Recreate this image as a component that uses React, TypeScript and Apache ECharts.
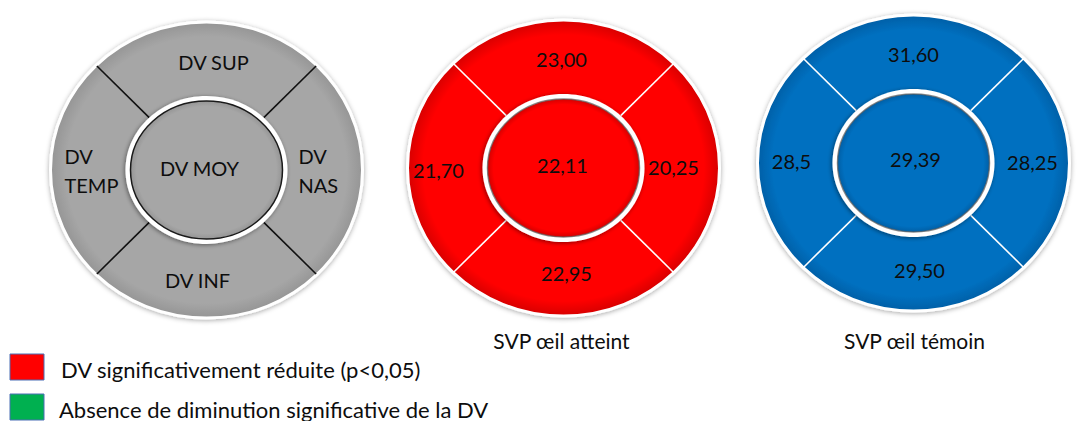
import React, { useEffect, useRef } from 'react';
import * as echarts from 'echarts';

// ---- data ----
const donutTitles = ['', 'SVP œil atteint', 'SVP œil témoin'];
// segment order: SUP, NAS, INF, TEMP, MOY
const referenceLabels = ['DV SUP', 'DV\nNAS', 'DV INF', 'DV\nTEMP', 'DV MOY'];
const atteintValues = ['23,00', '20,25', '22,95', '21,70', '22,11'];
const temoinValues = ['31,60', '28,25', '29,50', '28,5', '29,39'];
const legendLabels = [
  'DV significativement réduite (p<0,05)',
  'Absence de diminution significative de la DV',
];
const legendColors = ['#ff0000', '#00b050'];

const donutLabels = [referenceLabels, atteintValues, temoinValues];

// ---- styles / layout ----
const FONT = 'Lato';
const TEXT_COLOR = '#0d0d0d';
const DONUT_STYLE = [
  { fill: '#a6a6a6', edge: '#959595', line: '#111111', innerStroke: '#1a1a1a' },
  { fill: '#ff0000', edge: '#d60000', line: '#ffffff', innerStroke: 'rgba(90,90,90,0.7)' },
  { fill: '#0070c0', edge: '#005fa6', line: '#ffffff', innerStroke: 'rgba(90,90,90,0.7)' },
];
const CENTER_SHIFT = [[-2, 1], [2, -1], [-1, -6]];
const LABEL_OFFSETS = [
  [[7, -108], [92, 0], [-9, 110], [-142, 0], [-7, -2]],
  [[-2, -109], [110, -1], [3, 105], [-125, 2], [-1, -3]],
  [[0, -109], [119, -1], [6, 107], [-122, -2], [2, -4]],
];
const OUTER = { rx: 156, ry: 148 };
const WHITE_RING = { rx: 81, ry: 74 };
const INNER = { rx: 76, ry: 69 };

function gradient(fill: string, edge: string, from: number) {
  return {
    type: 'radial',
    x: 0.5,
    y: 0.5,
    r: 0.5,
    colorStops: [
      { offset: 0, color: fill },
      { offset: from, color: fill },
      { offset: 1, color: edge },
    ],
  };
}

function renderItem(params: any, api: any) {
  const i = api.value(0);
  const pt = api.coord([i, 0]);
  const cs = params.coordSys;
  const cx = pt[0] + CENTER_SHIFT[i][0];
  const cy = cs.y + cs.height / 2 + CENTER_SHIFT[i][1];
  const st = DONUT_STYLE[i];
  const children: any[] = [];

  children.push({
    type: 'ellipse',
    shape: { cx, cy, rx: OUTER.rx, ry: OUTER.ry },
    style: {
      fill: gradient(st.fill, st.edge, 0.9),
      stroke: '#ffffff',
      lineWidth: 3,
      shadowBlur: 5,
      shadowColor: 'rgba(0,0,0,0.35)',
      shadowOffsetY: 1,
    },
  });

  [45, 135, 225, 315].forEach((deg) => {
    const a = (deg * Math.PI) / 180;
    const c = Math.cos(a);
    const s = Math.sin(a);
    children.push({
      type: 'line',
      shape: {
        x1: cx + WHITE_RING.rx * c,
        y1: cy + WHITE_RING.ry * s,
        x2: cx + (OUTER.rx - 1) * c,
        y2: cy + (OUTER.ry - 1) * s,
      },
      style: { stroke: st.line, lineWidth: 1.6 },
    });
  });

  children.push({
    type: 'ellipse',
    shape: { cx, cy, rx: WHITE_RING.rx, ry: WHITE_RING.ry },
    style: {
      fill: '#ffffff',
      shadowBlur: 4,
      shadowColor: 'rgba(0,0,0,0.45)',
      shadowOffsetX: -1,
      shadowOffsetY: 1,
    },
  });

  children.push({
    type: 'ellipse',
    shape: { cx, cy, rx: INNER.rx, ry: INNER.ry },
    style: {
      fill: gradient(st.fill, st.edge, 0.92),
      stroke: st.innerStroke,
      lineWidth: 1.5,
    },
  });

  donutLabels[i].forEach((label, k) => {
    const [dx, dy] = LABEL_OFFSETS[i][k];
    const multi = label.indexOf('\n') >= 0;
    children.push({
      type: 'text',
      x: cx + dx,
      y: cy + dy,
      style: {
        text: label,
        fill: TEXT_COLOR,
        fontSize: 20,
        fontFamily: FONT,
        align: multi ? 'left' : 'center',
        verticalAlign: 'middle',
        lineHeight: 29,
      },
    });
  });

  return { type: 'group', children };
}

export default function App() {
  const ref = useRef<HTMLDivElement>(null);

  useEffect(() => {
    if (!ref.current) return;
    const chart = echarts.init(ref.current, undefined, { renderer: 'svg' });

    const legendGraphics: any[] = [];
    legendLabels.forEach((label, k) => {
      legendGraphics.push({
        type: 'rect',
        shape: { x: 10, y: 354 + k * 40, width: 34, height: 26 },
        style: { fill: legendColors[k], stroke: '#4a6fb5', lineWidth: 1 },
      });
      legendGraphics.push({
        type: 'text',
        x: 61 - k * 2,
        y: 369 + k * 40,
        style: {
          text: label,
          fill: TEXT_COLOR,
          fontSize: 22,
          fontFamily: FONT,
          verticalAlign: 'middle',
        },
      });
    });

    chart.setOption({
      animation: false,
      backgroundColor: '#ffffff',
      grid: { left: 32, width: 1080, top: 16, bottom: 99 },
      xAxis: {
        type: 'category',
        data: donutTitles,
        boundaryGap: true,
        axisLine: { show: false },
        axisTick: { show: false },
        splitLine: { show: false },
        axisLabel: {
          interval: 0,
          margin: 8,
          color: TEXT_COLOR,
          fontSize: 21,
          fontFamily: FONT,
        },
      },
      yAxis: { type: 'value', show: false, min: 0, max: 1 },
      series: [
        {
          type: 'custom',
          renderItem,
          data: donutTitles.map((_, i) => [i]),
          encode: { x: 0 },
          clip: false,
        },
      ],
      graphic: legendGraphics,
    });

    return () => chart.dispose();
  }, []);

  return (
    <div
      ref={ref}
      style={{ position: 'fixed', left: 0, top: 0, width: 1091, height: 421, background: '#fff' }}
    />
  );
}
